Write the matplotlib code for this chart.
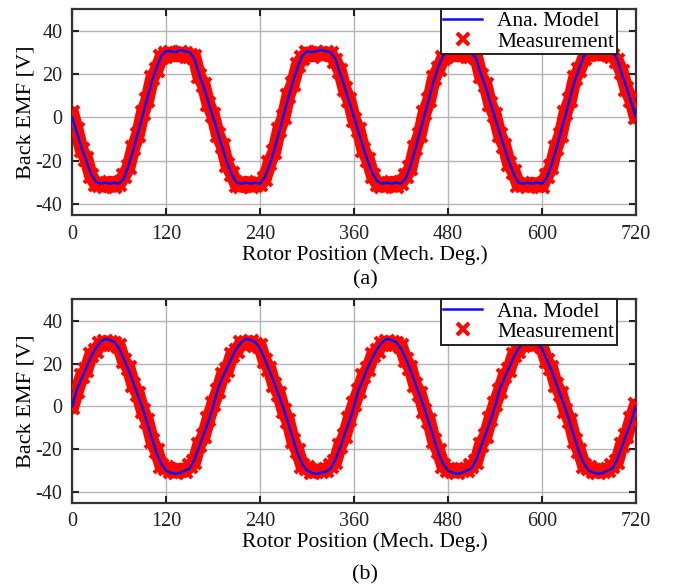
import numpy as np
import matplotlib.pyplot as plt

plt.rcParams['font.family'] = ['Liberation Serif', 'DejaVu Serif']
plt.rcParams['axes.unicode_minus'] = False

# Rotor position (mech. deg.), one sample every 6 degrees
angulo = np.arange(0, 721, 6)

# (a) back EMF, analytical model
emf_a_modelo = [
    0, -7, -14, -20, -26, -29.5, -30.5, -30, -30.5, -30, -30.5, -28, -22, -15, -7,
    1, 9, 17, 23, 28.5, 30.5, 30.5, 30, 31, 30.5, 30, 27, 20, 14, 7,
    0, -7, -14, -21, -26.5, -30, -30.5, -30, -30.5, -30, -30.5, -27.5, -22, -15, -7,
    1, 9, 16.5, 23, 28.5, 30.5, 30, 30.5, 31, 30.5, 30, 27, 20.5, 14, 7,
    0, -7, -14, -20.5, -26, -29.5, -30.5, -30, -30.5, -30, -30.5, -28, -22.5, -15, -7,
    1, 9, 17, 23.5, 28.5, 30, 30.5, 30, 30.5, 30.5, 30, 27, 20, 14, 7,
    0, -7, -14, -20.5, -26, -30, -30.5, -30, -30.5, -30, -30.5, -28, -22, -15, -7,
    1, 9, 17, 23, 28.5, 30.5, 30.5, 30, 31, 30.5, 30, 27, 20, 14, 7,
    0,
]

# (a) back EMF, measurement
emf_a_medido = [
    2, -6, -15, -19, -27, -30.5, -31, -31.5, -30, -31.5, -30.5, -27, -23, -14, -8,
    2, 8, 18, 22, 28, 29, 29.5, 28.5, 29.5, 29, 28.5, 28, 19, 15, 6,
    1, -8, -13, -22, -26, -31, -31.5, -30, -31.5, -31, -30.5, -28.5, -21, -16, -6,
    0, 10, 15.5, 24, 27.5, 29.5, 28.5, 29.5, 29, 29.5, 29, 26, 21.5, 13, 8,
    -1, -6, -15, -19.5, -27, -30.5, -31.5, -31, -30, -31.5, -30, -27, -23.5, -14, -8,
    2, 8, 18, 22.5, 27.5, 29, 29.5, 28.5, 29.5, 29, 28.5, 28, 19, 15, 6,
    1, -8, -13, -21.5, -25, -31, -31, -31.5, -30.5, -31, -31.5, -27, -23, -14, -8,
    2, 8, 18, 22, 27.5, 29, 29.5, 29, 29.5, 29, 28.5, 26, 21, 13, 8,
    0,
]

# (b) back EMF, analytical model
emf_b_modelo = [
    0, 8, 13, 18, 23, 27, 30, 31.5, 31, 30, 27, 22, 17, 11, 5,
    -1, -8, -15, -22, -27, -30, -31, -31.5, -31, -30, -29, -25, -19, -13, -7,
    0, 8, 13.5, 18, 23, 27, 30, 31.5, 31, 30, 27, 22, 16.5, 11, 5,
    -1, -8, -15, -22, -27, -30, -31, -31.5, -31, -30.5, -29, -25, -19.5, -13, -7,
    0, 8, 13, 18.5, 23, 27, 30, 31.5, 31, 30, 27, 22.5, 17, 11, 5,
    -1, -8, -15, -22, -27, -30, -31, -31.5, -31, -30, -29, -25, -19, -13, -7,
    0, 8, 13, 18, 23, 27, 29.5, 30.5, 30.5, 29.5, 27, 22, 17, 11, 5,
    -1, -8, -15, -22, -27, -30, -31, -31.5, -31, -30, -29, -25, -19, -13, -7,
    0,
]

# (b) back EMF, measurement
emf_b_medido = [
    -0.5, 7, 14, 17, 24, 26, 29, 30, 29.5, 29, 28, 21, 18, 10, 6,
    -2, -7, -16, -21, -28, -29, -30, -30.5, -29.5, -30, -28, -26, -18, -14, -6,
    1, 7, 14.5, 17, 24, 26, 29.5, 29.5, 30, 28.5, 28, 21, 17.5, 10, 6,
    -2, -7, -16, -21, -28, -29, -30.5, -30, -30, -29.5, -28, -26, -18.5, -14, -6,
    1, 7, 14, 17.5, 24, 26, 29, 30, 29.5, 29, 28, 21.5, 18, 10, 6,
    -2, -7, -16, -21, -28, -29.5, -30, -30.5, -29.5, -29.5, -28, -26, -18, -14, -6,
    1, 7, 14, 17, 24, 26, 28.5, 29.5, 29.5, 29, 28, 21, 18, 10, 6,
    -2, -7, -16, -21, -28, -29, -30, -30.5, -30, -29.5, -28, -26, -18, -14, -6,
    0.5,
]

xticks = [0, 120, 240, 360, 480, 600, 720]
yticks = [-40, -20, 0, 20, 40]

cor_modelo = '#0a10f5'
cor_medido = '#ff0500'

fig = plt.figure(figsize=(6.75, 5.88), dpi=100)
ax_a = fig.add_axes([0.107, 0.634, 0.835, 0.351])
ax_b = fig.add_axes([0.107, 0.145, 0.835, 0.346])

for ax, modelo, medido, letra, y_letra in [(ax_a, emf_a_modelo, emf_a_medido, '(a)', 1 - 280 / 588),
                                           (ax_b, emf_b_modelo, emf_b_medido, '(b)', 1 - 575 / 588)]:
    # band under the markers so the measurement cloud looks continuous
    ax.plot(angulo, medido, color=cor_medido, lw=10, solid_capstyle='round', zorder=2)
    ax.plot(angulo, medido, 'x', color=cor_medido, ms=10, mew=3,
            label='Measurement', zorder=3)
    ax.plot(angulo, modelo, color=cor_modelo, lw=1.8, label='Ana. Model', zorder=4)

    ax.set_xlim(0, 720)
    ax.set_ylim(-45, 50)
    ax.set_xticks(xticks)
    ax.set_yticks(yticks)
    ax.grid(True, color='#b4b4b4', lw=1.0)
    ax.set_axisbelow(True)
    ax.tick_params(direction='in', top=True, right=True, length=5, width=1.5,
                   labelsize=14.5, colors='#222222', pad=7)
    for s in ax.spines.values():
        s.set_linewidth(1.6)
        s.set_color('#333333')
    ax.set_ylabel('Back EMF [V]', fontsize=16, labelpad=0)
    ax.set_xlabel('Rotor Position (Mech. Deg.)', fontsize=15.5)
    ax.xaxis.set_label_coords((365 - 72) / 564, -0.145)
    fig.text(365 / 675, y_letra, letra, fontsize=16, ha='center', va='center')

    handles, labels = ax.get_legend_handles_labels()
    leg = ax.legend(handles[::-1], labels[::-1], loc='upper right',
                    bbox_to_anchor=(0.966, 1.0), borderaxespad=0,
                    fontsize=15.5, fancybox=False, framealpha=1,
                    edgecolor='#222222', handlelength=1.8, handletextpad=0.7,
                    borderpad=0.12, labelspacing=0.0, markerscale=0.8)
    leg.get_frame().set_linewidth(1.4)

fig.savefig('out.png', dpi=100)
